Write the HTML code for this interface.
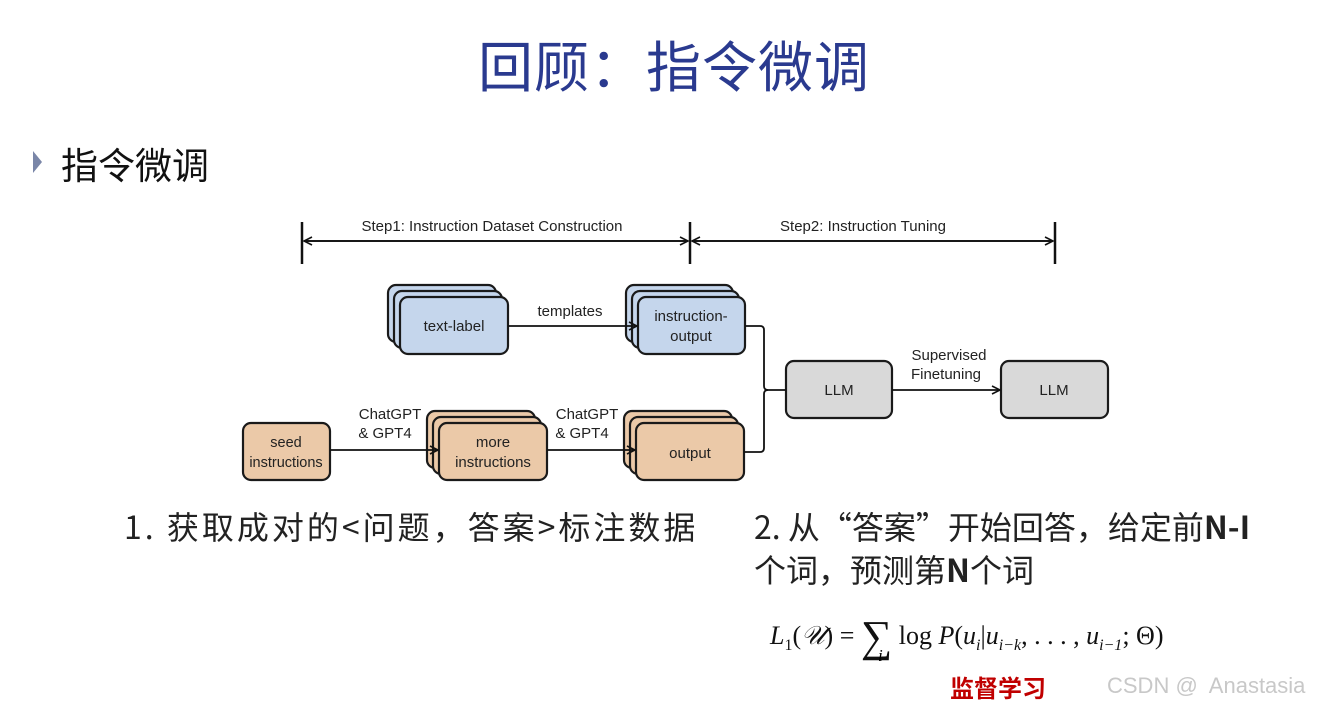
<!DOCTYPE html>
<html><head><meta charset="utf-8"><style>
body{margin:0;width:1337px;height:708px;background:#fff;position:relative;overflow:hidden;font-family:"Liberation Sans","Noto Sans CJK SC",sans-serif}
.a{position:absolute;white-space:nowrap}
</style></head><body>
<div class="a" style="left:478px;top:23px;font-size:55px;color:#2a3a8f;font-family:'Noto Sans CJK SC',sans-serif;font-weight:400;letter-spacing:1px">回顾：指令微调</div>
<div class="a" style="left:33px;top:151px;width:0;height:0;border-left:9px solid #7a86a8;border-top:11px solid transparent;border-bottom:11px solid transparent"></div>
<div class="a" style="left:61px;top:136px;font-size:37px;color:#111;font-family:'Noto Sans CJK SC',sans-serif">指令微调</div>

<svg class="a" style="left:0;top:0" width="1337" height="708" font-family="Liberation Sans, sans-serif">
<defs><marker id="m" markerWidth="10" markerHeight="10" refX="9" refY="5" orient="auto" markerUnits="userSpaceOnUse"><path d="M1,1 L9,5 L1,9" fill="none" stroke="#111" stroke-width="1.6"/></marker></defs>
<g stroke="#111" stroke-width="2.5"><line x1="302" y1="222" x2="302" y2="264"/><line x1="690" y1="222" x2="690" y2="264"/><line x1="1055" y1="222" x2="1055" y2="264"/></g>
<g stroke="#111" stroke-width="1.8" fill="none">
<line x1="304" y1="241" x2="688" y2="241" marker-end="url(#m)"/><line x1="688" y1="241" x2="304" y2="241" marker-end="url(#m)"/>
<line x1="692" y1="241" x2="1053" y2="241" marker-end="url(#m)"/><line x1="1053" y1="241" x2="692" y2="241" marker-end="url(#m)"/>
</g>
<text x="492" y="231" font-size="15" text-anchor="middle" fill="#222">Step1: Instruction Dataset Construction</text>
<text x="863" y="231" font-size="15" text-anchor="middle" fill="#222">Step2: Instruction Tuning</text>
<g stroke="#1a1a1a" stroke-width="2.2">
<g fill="#c5d6ec"><rect x="388" y="285" width="108" height="57" rx="8"/><rect x="394" y="291" width="108" height="57" rx="8"/><rect x="400" y="297" width="108" height="57" rx="8"/>
<rect x="626" y="285" width="107" height="57" rx="8"/><rect x="632" y="291" width="107" height="57" rx="8"/><rect x="638" y="297" width="107" height="57" rx="8"/></g>
<g fill="#ebc9a8"><rect x="243" y="423" width="87" height="57" rx="8"/>
<rect x="427" y="411" width="108" height="57" rx="8"/><rect x="433" y="417" width="108" height="57" rx="8"/><rect x="439" y="423" width="108" height="57" rx="8"/>
<rect x="624" y="411" width="108" height="57" rx="8"/><rect x="630" y="417" width="108" height="57" rx="8"/><rect x="636" y="423" width="108" height="57" rx="8"/></g>
<g fill="#d9d9d9"><rect x="786" y="361" width="106" height="57" rx="8"/><rect x="1001" y="361" width="107" height="57" rx="8"/></g>
</g>
<g stroke="#111" stroke-width="1.8" fill="none">
<line x1="508" y1="326" x2="637" y2="326" marker-end="url(#m)"/>
<line x1="330" y1="450" x2="438" y2="450" marker-end="url(#m)"/>
<line x1="547" y1="450" x2="635" y2="450" marker-end="url(#m)"/>
<line x1="892" y1="390" x2="1000" y2="390" marker-end="url(#m)"/>
<path d="M745,326 H760 Q764,326 764,330 V386 Q764,390 768,390 H786"/>
<path d="M744,452 H760 Q764,452 764,448 V394 Q764,390 768,390"/>
</g>
<g font-size="15" fill="#222" text-anchor="middle">
<text x="454" y="331">text-label</text>
<text x="691" y="321">instruction-</text><text x="691" y="341">output</text>
<text x="570" y="316">templates</text>
<text x="286" y="447" font-size="14.5">seed</text><text x="286" y="467" font-size="14.5">instructions</text>
<text x="493" y="447">more</text><text x="493" y="467">instructions</text>
<text x="690" y="458">output</text>
<text x="390" y="419">ChatGPT</text><text x="385" y="438">&amp; GPT4</text>
<text x="587" y="419">ChatGPT</text><text x="582" y="438">&amp; GPT4</text>
<text x="839" y="395">LLM</text><text x="1054" y="395">LLM</text>
<text x="949" y="360">Supervised</text><text x="946" y="379">Finetuning</text>
</g>
</svg>

<div class="a" style="left:124px;top:503px;font-size:32px;letter-spacing:3px;color:#222;font-family:'Noto Sans CJK SC',sans-serif">1. 获取成对的&lt;问题，答案&gt;标注数据</div>
<div class="a" style="left:754px;top:503px;font-size:32px;color:#222;font-family:'Noto Sans CJK SC',sans-serif">2. 从“答案”开始回答，给定前<b>N-I</b></div>
<div class="a" style="left:754px;top:546px;font-size:32px;color:#222;font-family:'Noto Sans CJK SC',sans-serif">个词，预测第<b>N</b>个词</div>
<div class="a" style="left:770px;top:604px;font-size:26px;color:#111;font-family:'Liberation Serif',serif"><i>L</i><sub style="font-size:16px">1</sub>(<i>𝒰</i>) = <span style="font-size:44px;position:relative;top:7px">∑</span> log <i>P</i>(<i>u<sub style="font-size:16px">i</sub></i>|<i>u<sub style="font-size:16px">i−k</sub></i>, . . . , <i>u<sub style="font-size:16px">i−1</sub></i>; Θ)</div>
<div class="a" style="left:878px;top:646px;font-size:17px;font-style:italic;font-family:'Liberation Serif',serif">i</div>
<div class="a" style="left:950px;top:670px;font-size:24px;color:#c00000;font-weight:bold;font-family:'Noto Sans CJK SC',sans-serif;line-height:34px">监督学习</div>
<div class="a" style="left:1107px;top:673px;font-size:22px;color:#c8c8c8">CSDN @&nbsp; Anastasia</div>
</body></html>
